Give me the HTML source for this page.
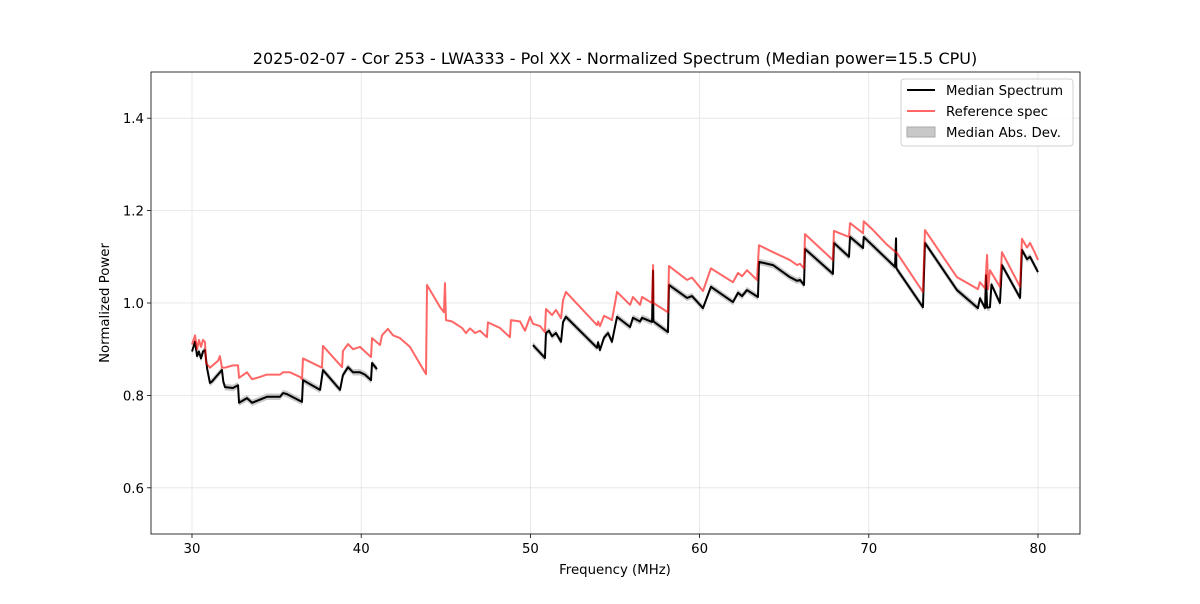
<!DOCTYPE html>
<html><head><meta charset="utf-8"><style>
body{margin:0;background:#fff;font-family:"DejaVu Sans","Liberation Sans",sans-serif}
</style></head><body>
<svg id="c" width="1200" height="600" xmlns="http://www.w3.org/2000/svg" font-family="DejaVu Sans, Liberation Sans, sans-serif"></svg>
<script>
const xTicks=[30,40,50,60,70,80];
const yTicks=[0.6,0.8,1.0,1.2,1.4];
const refFreq=[30.00,30.18,30.30,30.41,30.53,30.65,30.77,30.83,31.06,31.54,31.65,31.77,31.95,32.42,32.72,32.78,33.25,33.55,34.02,34.43,35.20,35.38,35.79,36.38,36.50,36.56,37.68,37.74,38.87,38.92,39.22,39.52,39.93,40.22,40.58,40.64,41.11,41.23,41.58,41.88,42.29,42.88,43.83,43.89,44.66,44.89,44.95,45.01,45.37,45.96,46.19,46.43,46.73,47.02,47.43,47.49,48.20,48.79,48.85,49.39,49.68,49.98,50.15,50.57,50.86,50.92,51.28,51.51,51.81,51.93,52.10,53.94,54.00,54.11,54.35,54.59,54.82,55.12,55.89,56.06,56.48,56.60,57.19,57.25,57.27,58.13,58.19,59.26,59.55,60.20,60.67,61.97,62.27,62.51,62.80,63.39,63.51,64.34,65.34,65.76,65.93,66.17,66.23,67.88,67.94,68.83,68.89,69.66,69.70,70.25,71.08,71.67,73.20,73.32,74.39,75.21,76.45,76.57,76.87,76.99,77.05,77.16,77.75,77.87,78.94,79.05,79.35,79.53,79.80,80.00];
const refPower=[0.91,0.93,0.90,0.92,0.905,0.92,0.915,0.87,0.86,0.875,0.885,0.86,0.86,0.865,0.865,0.838,0.85,0.835,0.84,0.845,0.845,0.85,0.85,0.84,0.835,0.88,0.86,0.907,0.861,0.896,0.911,0.90,0.905,0.895,0.883,0.924,0.909,0.93,0.944,0.93,0.924,0.905,0.846,1.039,0.991,0.98,1.043,0.963,0.96,0.946,0.935,0.945,0.935,0.94,0.926,0.958,0.946,0.926,0.963,0.96,0.94,0.97,0.955,0.95,0.937,0.987,0.974,0.985,0.967,1.006,1.024,0.952,0.96,0.95,0.972,0.968,0.963,1.024,0.996,1.013,0.996,1.013,1.0,1.082,1.0,0.98,1.08,1.05,1.055,1.026,1.075,1.045,1.065,1.058,1.071,1.05,1.125,1.11,1.093,1.082,1.085,1.075,1.149,1.093,1.156,1.143,1.173,1.151,1.177,1.158,1.126,1.108,1.024,1.158,1.10,1.056,1.03,1.045,1.032,1.104,1.03,1.071,1.035,1.11,1.035,1.139,1.12,1.13,1.11,1.093];
const medFreqA=[30.00,30.18,30.30,30.41,30.53,30.65,30.77,30.89,31.06,31.18,31.77,31.85,31.95,32.42,32.72,32.78,33.25,33.55,34.43,35.20,35.38,35.60,36.50,36.56,37.57,37.74,38.75,38.92,39.22,39.52,39.93,40.22,40.58,40.64,40.93];
const medPowerA=[0.895,0.916,0.885,0.895,0.88,0.895,0.898,0.859,0.827,0.83,0.855,0.83,0.818,0.816,0.822,0.784,0.794,0.784,0.797,0.797,0.805,0.803,0.786,0.833,0.812,0.855,0.812,0.844,0.861,0.85,0.85,0.845,0.833,0.87,0.857];
const medFreqB=[50.15,50.86,50.92,51.10,51.28,51.51,51.81,51.93,52.10,53.94,54.00,54.11,54.35,54.59,54.82,55.12,55.89,56.06,56.48,56.60,57.19,57.25,57.27,58.13,58.19,59.26,59.55,60.20,60.67,61.97,62.27,62.51,62.80,63.45,63.51,64.34,65.34,65.76,65.93,66.17,66.23,67.88,67.94,68.83,68.89,69.66,69.70,71.55,71.61,71.63,73.20,73.32,75.21,76.45,76.57,76.87,76.93,76.99,77.16,77.25,77.75,77.87,78.94,79.05,79.35,79.53,80.00];
const medPowerB=[0.909,0.881,0.935,0.94,0.928,0.935,0.916,0.959,0.97,0.903,0.915,0.898,0.925,0.935,0.916,0.97,0.948,0.968,0.96,0.968,0.959,1.07,0.96,0.937,1.039,1.011,1.015,0.989,1.035,1.002,1.022,1.015,1.028,1.013,1.089,1.082,1.056,1.048,1.05,1.039,1.117,1.063,1.13,1.10,1.143,1.119,1.143,1.078,1.14,1.075,0.991,1.13,1.028,0.989,1.01,0.989,1.06,0.99,0.991,1.04,1.0,1.082,1.011,1.115,1.095,1.10,1.067];
const madHalf=0.007;

const NS="http://www.w3.org/2000/svg";
const svg=document.getElementById('c');
const L=151,R=1080,T=72,B=534;
const X=f=>192+(f-30)*(1038-192)/50;
const Y=v=>B-(v-0.5)*(B-T)/1.0;
function mk(tag,attrs,parent){const e=document.createElementNS(NS,tag);for(const k in attrs)e.setAttribute(k,attrs[k]);(parent||svg).appendChild(e);return e;}

const grid=mk('g',{});


xTicks.forEach(t=>{const l=mk('line',{x1:X(t),x2:X(t),y1:T,y2:B,stroke:'#e3e3e3','stroke-width':0.8},grid);

});
yTicks.forEach(t=>{const l=mk('line',{x1:L,x2:R,y1:Y(t),y2:Y(t),stroke:'#e3e3e3','stroke-width':0.8},grid);

});

function band(fs,ps){let up=fs.map((f,i)=>X(f)+','+Y(ps[i]+madHalf));let dn=fs.map((f,i)=>X(f)+','+Y(ps[i]-madHalf)).reverse();
const p=mk('polygon',{points:up.concat(dn).join(' '),fill:'#bbbbbb',opacity:0.8});

}
band(medFreqA,medPowerA);band(medFreqB,medPowerB);
function line(fs,ps,col,name){const p=mk('polyline',{points:fs.map((f,i)=>X(f)+','+Y(ps[i])).join(' '),fill:'none',stroke:col,'stroke-width':2,'stroke-linejoin':'round'});

}
line(medFreqA,medPowerA,'#000','median-spectrum-line');
line(medFreqB,medPowerB,'#000','median-spectrum-line');
line(refFreq,refPower,'rgba(255,0,0,0.6)','reference-spec-line');

const fr=mk('rect',{x:L,y:T,width:R-L,height:B-T,fill:'none',stroke:'#000','stroke-width':0.8});


xTicks.forEach(t=>{mk('line',{x1:X(t),x2:X(t),y1:B,y2:B+4,stroke:'#000','stroke-width':0.8});
const tx=mk('text',{x:X(t),y:B+19,'font-size':13.3,'text-anchor':'middle'});tx.textContent=t;

});
yTicks.forEach(t=>{mk('line',{x1:L-4,x2:L,y1:Y(t),y2:Y(t),stroke:'#000','stroke-width':0.8});
const tx=mk('text',{x:L-7,y:Y(t)+5,'font-size':13.3,'text-anchor':'end'});tx.textContent=t.toFixed(1);

});
let t1=mk('text',{x:615,y:64,'font-size':16,'text-anchor':'middle'});t1.textContent='2025-02-07 - Cor 253 - LWA333 - Pol XX - Normalized Spectrum (Median power=15.5 CPU)';


let t2=mk('text',{x:615,y:574,'font-size':13.3,'text-anchor':'middle'});t2.textContent='Frequency (MHz)';


let t3=mk('text',{x:109,y:303,'font-size':13.3,'text-anchor':'middle',transform:'rotate(-90 109 303)'});t3.textContent='Normalized Power';



const lg=mk('g',{});


mk('rect',{x:901,y:79,width:172,height:67,rx:3,fill:'#fff',stroke:'#d0d0d0','fill-opacity':0.8},lg);
mk('line',{x1:907,x2:935,y1:90,y2:90,stroke:'#000','stroke-width':2},lg);
mk('line',{x1:907,x2:935,y1:111,y2:111,stroke:'rgba(255,0,0,0.6)','stroke-width':2},lg);
mk('rect',{x:907,y:127,width:28,height:10,fill:'#c8c8c8',stroke:'#aaa'},lg);
[['Median Spectrum',95],['Reference spec',116],['Median Abs. Dev.',137]].forEach(([s,y])=>{const e=mk('text',{x:946,y:y,'font-size':13.3},lg);e.textContent=s;

});
</script>
</body></html>
